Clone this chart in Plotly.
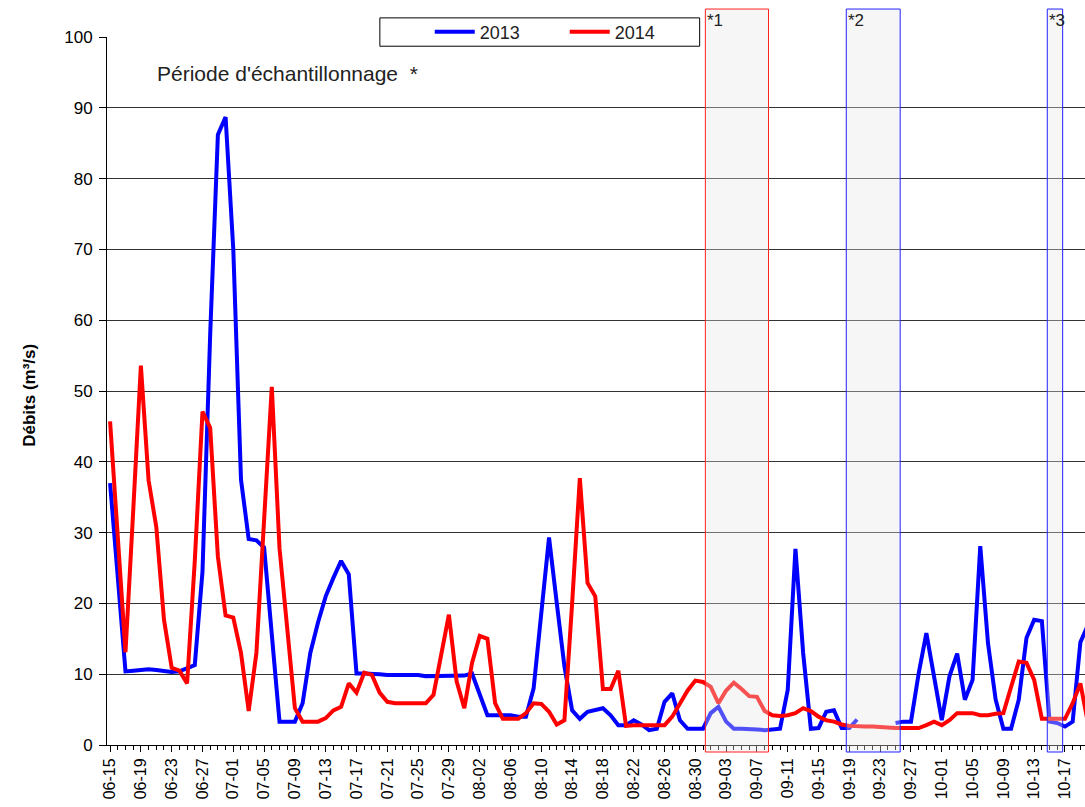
import pandas as pd
import plotly.graph_objects as go

# days from 06-15 (daily values, m3/s)
dates = pd.date_range("2014-06-15", periods=128, freq="D")

debit_2013 = [
    37.0, 24.0, 10.4, 10.5, 10.6, 10.7, 10.6, 10.4, 10.3, 10.4,
    10.9, 11.3, 24.5, 58.0, 86.2, 88.7, 70.0, 37.5, 29.1, 28.9,
    27.9, 16.0, 3.3, 3.3, 3.3, 5.9, 13.0, 17.3, 21.0, 23.6,
    26.0, 24.1, 10.1, 10.1, 10.1, 10.0, 9.9, 9.9, 9.9, 9.9,
    9.9, 9.7, 9.7, 9.7, 9.7, 9.7, 9.8, 10.1, 7.3, 4.2,
    4.2, 4.2, 4.2, 4.0, 4.0, 8.0, 18.2, 29.3, 20.1, 11.1,
    4.9, 3.7, 4.7, 4.9, 5.2, 4.2, 2.8, 2.8, 3.5, 2.9,
    2.1, 2.3, 6.1, 7.3, 3.5, 2.3, 2.3, 2.3, 4.5, 5.4,
    3.3, 2.3, 2.3, 2.3, 2.2, 2.1, 2.2, 2.3, 7.8, 27.7,
    13.0, 2.3, 2.4, 4.7, 4.9, 2.4, 2.4, 3.6, None, None,
    None, None, 3.1, 3.3, 3.3, 10.1, 15.8, 9.7, 3.5, 9.7,
    12.9, 6.4, 9.2, 28.1, 14.4, 6.4, 2.3, 2.3, 6.4, 15.1,
    17.7, 17.5, 3.3, 3.1, 2.6, 3.3, 14.5, 17.0,
]

debit_2014 = [
    45.7, 29.5, 13.1, 33.0, 53.6, 37.4, 30.8, 17.7, 10.9, 10.5,
    8.7, 26.0, 47.1, 44.8, 26.6, 18.3, 18.0, 13.0, 4.8, 13.0,
    31.0, 50.6, 27.8, 16.0, 5.2, 3.3, 3.3, 3.3, 3.8, 4.9,
    5.4, 8.7, 7.4, 10.2, 9.9, 7.4, 6.1, 5.9, 5.9, 5.9,
    6.0, 5.9, 7.1, 12.7, 18.4, 9.0, 5.2, 11.6, 15.4, 15.0,
    5.9, 3.7, 3.7, 3.7, 4.5, 5.9, 5.8, 4.7, 2.9, 3.5,
    20.0, 37.7, 22.9, 21.0, 7.9, 7.9, 10.5, 2.7, 2.8, 2.8,
    2.8, 2.8, 2.8, 4.0, 5.9, 7.7, 9.1, 8.9, 8.2, 5.9,
    7.7, 8.8, 7.9, 6.9, 6.8, 4.8, 4.2, 4.1, 4.2, 4.5,
    5.2, 4.8, 4.0, 3.5, 3.3, 2.9, 2.7, 2.6, 2.6, 2.6,
    2.5, 2.4, 2.4, 2.4, 2.4, 2.4, 2.8, 3.3, 2.8, 3.5,
    4.5, 4.5, 4.5, 4.2, 4.2, 4.4, 4.5, 8.2, 11.8, 11.6,
    9.2, 3.7, 3.7, 3.7, 3.7, 5.9, 8.7, 3.0,
]

# sampling periods: (start day, end day, label, border colour)
periodes = [
    (77.3, 85.5, "*1", "#ff2020"),
    (95.6, 102.6, "*2", "#2020ff"),
    (121.7, 123.7, "*3", "#2020ff"),
]

FONT = "Arial, Liberation Sans, sans-serif"
d0 = dates[0]


def day(x):
    return d0 + pd.Timedelta(days=x)


fig = go.Figure()
fig.add_trace(go.Scatter(x=dates, y=debit_2013, name="2013", mode="lines",
                         line=dict(color="#0000ff", width=4)))
fig.add_trace(go.Scatter(x=dates, y=debit_2014, name="2014", mode="lines",
                         line=dict(color="#ff0000", width=4)))

for start, end, lab, col in periodes:
    fig.add_shape(type="rect", xref="x", yref="paper",
                  x0=day(start), x1=day(end), y0=-0.0099, y1=1.0395,
                  fillcolor="rgba(228,228,228,0.35)",
                  line=dict(color=col, width=1), layer="above")
    fig.add_annotation(x=day(start), xref="x", y=1.0226, yref="paper",
                       text=lab, showarrow=False, xanchor="left",
                       yanchor="middle", xshift=0,
                       font=dict(family=FONT, size=17, color="#222"))

# legend frame
fig.add_shape(type="rect", xref="paper", yref="paper",
              x0=0.279, x1=0.606, y0=0.987, y1=1.027,
              line=dict(color="black", width=1), fillcolor="rgba(0,0,0,0)")

fig.add_annotation(x=0.049, y=0.949, xref="paper", yref="paper",
                   text="Période d'échantillonnage  *", showarrow=False,
                   xanchor="left", yanchor="middle",
                   font=dict(family=FONT, size=21, color="#222"))

fig.add_annotation(x=-0.091, y=0.494, xref="paper", yref="paper",
                   text="<b>Débits (m³/s)</b>", showarrow=False, textangle=-90,
                   font=dict(family=FONT, size=17, color="black"))

fig.update_xaxes(
    type="date", range=[day(-0.4), day(126.6)], automargin=False,
    tick0=d0, dtick=4 * 86400000, tickformat="%m-%d", tickangle=-90,
    ticks="outside", ticklen=6, tickcolor="black",
    minor=dict(dtick=86400000, ticks="outside", ticklen=4, tickcolor="black"),
    showline=True, linecolor="black", linewidth=1, showgrid=False,
    tickfont=dict(family=FONT, size=16, color="black"),
)
fig.update_yaxes(
    range=[0, 100], dtick=10, automargin=False,
    ticks="outside", ticklen=7, tickcolor="black", ticklabelstandoff=3,
    showline=True, linecolor="black", linewidth=1,
    showgrid=True, gridcolor="#333333", gridwidth=1, zeroline=False,
    tickfont=dict(family=FONT, size=17, color="black"),
)

fig.update_layout(
    width=1085, height=807,
    margin=dict(l=107, r=0, t=37, b=62, autoexpand=False),
    paper_bgcolor="white", plot_bgcolor="white",
    showlegend=True,
    legend=dict(orientation="h", x=0.33, y=1.007, xanchor="left",
                yanchor="middle", bgcolor="rgba(0,0,0,0)", entrywidth=80,
                itemwidth=40,
                font=dict(family=FONT, size=18, color="#222")),
)

# the page body has an 8px default margin; remove it so the figure sits at 0,0
fig.write_html("out.html", config={"displayModeBar": False},
               post_script="document.body.style.margin='0';"
                           "document.body.style.overflow='hidden';")
